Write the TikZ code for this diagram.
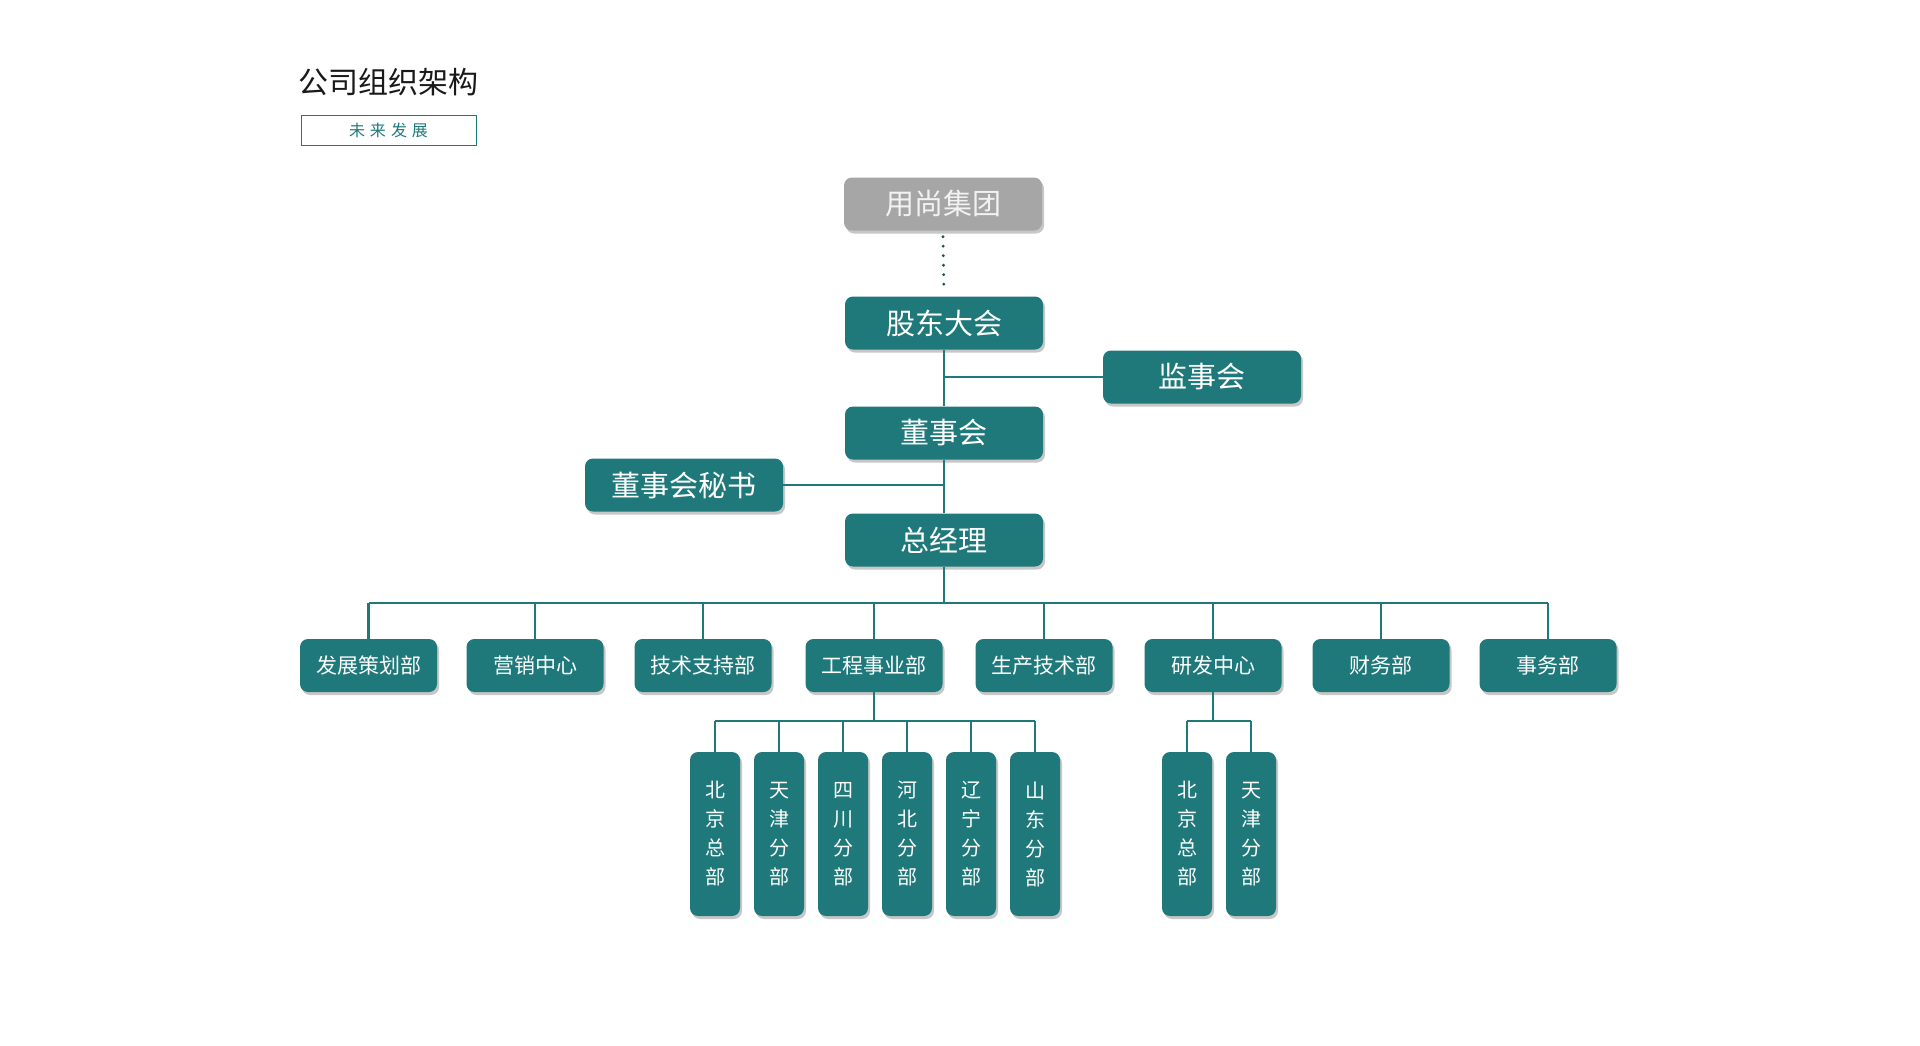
\documentclass[tikz,border=0pt]{standalone}
\usepackage{fontspec}
\setmainfont{Noto Sans CJK SC}
\usetikzlibrary{shadows}
\definecolor{teal}{RGB}{31,121,122}
\definecolor{boxgray}{RGB}{166,166,166}
\begin{document}
\begin{tikzpicture}[x=1pt,y=-1pt,
  box/.style={rounded corners=8pt, minimum width=198pt, minimum height=53pt,
    text=white, font=\fontsize{29}{32}\selectfont, inner sep=0pt,
    drop shadow={shadow xshift=2pt, shadow yshift=-3pt, fill=black, opacity=0.22}},
  tbox/.style={box, fill=teal},
  gbox/.style={box, fill=boxgray, text=white!95!black},
  dept/.style={tbox, minimum width=137pt, font=\fontsize{21}{24}\selectfont},
  sub/.style={tbox, minimum width=50pt, minimum height=164pt, align=center,
    font=\fontsize{20}{29}\selectfont},
  conn/.style={draw=teal, line width=2.6pt},
]
\path[use as bounding box, fill=white] (0,0) rectangle (1920,1045);

% title
\node[anchor=west, inner sep=0pt, font=\fontsize{30}{34}\selectfont, text=black!90] (title) at (298,82) {公司组织架构};
\node[draw=teal, line width=1pt, minimum width=175pt, minimum height=30pt, inner sep=0pt,
  text=teal, font=\fontsize{16}{18}\selectfont] (subt) at (388.5,130)
  {未\hspace{5pt}来\hspace{5pt}发\hspace{5pt}展};

% top hierarchy
\node[gbox] (group) at (943,204) {用尚集团};
\node[tbox] (gd) at (944,323) {股东大会};
\node[tbox] (js) at (1202,377) {监事会};
\node[tbox] (ds) at (944,433) {董事会};
\node[tbox] (ms) at (684,485) {董事会秘书};
\node[tbox] (zjl) at (944,540) {总经理};

% departments
\node[dept] (d1) at (368.5,665.5) {发展策划部};
\node[dept] (d2) at (535,665.5) {营销中心};
\node[dept] (d3) at (703,665.5) {技术支持部};
\node[dept] (d4) at (874,665.5) {工程事业部};
\node[dept] (d5) at (1044,665.5) {生产技术部};
\node[dept] (d6) at (1213,665.5) {研发中心};
\node[dept] (d7) at (1381,665.5) {财务部};
\node[dept] (d8) at (1548,665.5) {事务部};

% engineering branches
\node[sub] (e1) at (715,834) {北\\京\\总\\部};
\node[sub] (e2) at (779,834) {天\\津\\分\\部};
\node[sub] (e3) at (843,834) {四\\川\\分\\部};
\node[sub] (e4) at (907,834) {河\\北\\分\\部};
\node[sub] (e5) at (971,834) {辽\\宁\\分\\部};
\node[sub] (e6) at (1035,834) {山\\东\\分\\部};

% R&D branches
\node[sub] (r1) at (1187,834) {北\\京\\总\\部};
\node[sub] (r2) at (1251,834) {天\\津\\分\\部};

% connectors
\draw[draw=teal!70!black, line width=3.2pt, line cap=round, dash pattern=on 0pt off 9.5pt]
  ([yshift=-6pt]group.south) -- ([yshift=3pt]gd.north);
\coordinate (bus) at (0,603);
\coordinate (ebus) at (0,721);

\draw[conn] (gd.south) -- (ds.north);
\draw[conn] (js.west) -- (js.west -| gd.south);
\draw[conn] (ds.south) -- (zjl.north);
\draw[conn] (ms.east) -- (ms.east -| ds.south);

\draw[conn] (zjl.south) -- (zjl.south |- bus);
\draw[conn] (d1.north |- bus) -- (d8.north |- bus);
\foreach \n in {d1,d2,d3,d4,d5,d6,d7,d8}
  \draw[conn] (\n.north) -- (\n.north |- bus);

\draw[conn] (d4.south) -- (d4.south |- ebus);
\draw[conn] (e1.north |- ebus) -- (e6.north |- ebus);
\foreach \n in {e1,e2,e3,e4,e5,e6}
  \draw[conn] (\n.north) -- (\n.north |- ebus);

\draw[conn] (d6.south) -- (d6.south |- ebus);
\draw[conn] (r1.north |- ebus) -- (r2.north |- ebus);
\foreach \n in {r1,r2}
  \draw[conn] (\n.north) -- (\n.north |- ebus);
\end{tikzpicture}
\end{document}
